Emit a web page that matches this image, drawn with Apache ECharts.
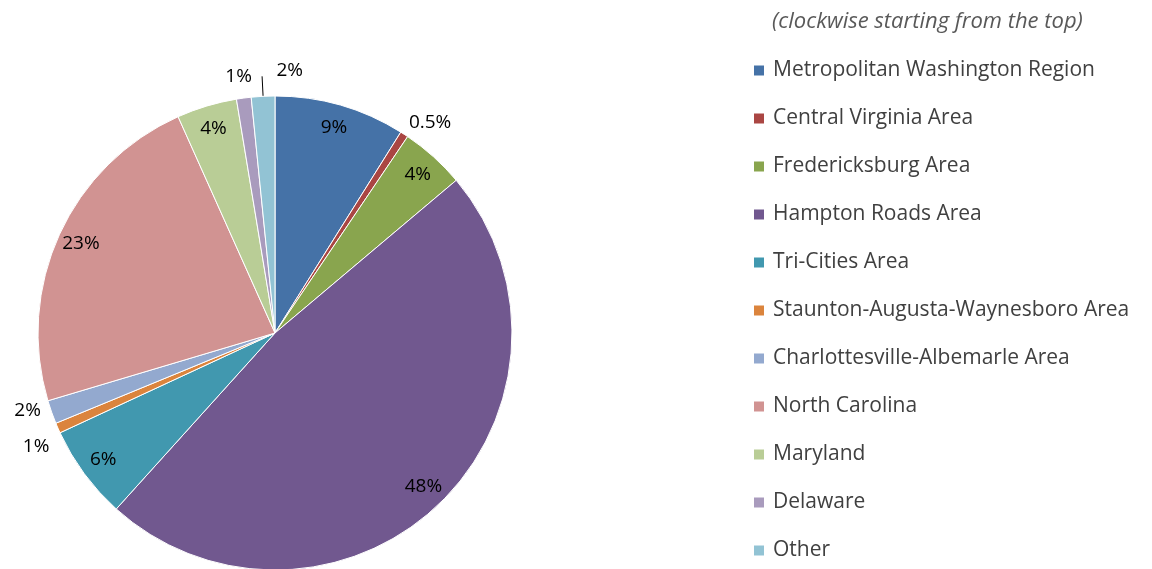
<!DOCTYPE html>
<html>
<head>
    <meta charset="UTF-8">
    <title>Share by region</title>
    <script src="https://cdn.jsdelivr.net/npm/echarts@6/dist/echarts.min.js"></script>
    <style>
        body { margin: 0; padding: 0; background: #fff; }
        #main { width: 1152px; height: 569px; }
    </style>
</head>
<body>
<div id="main"></div>
<script>
    // data, clockwise from the top
    var regions = ['Metropolitan Washington Region', 'Central Virginia Area', 'Fredericksburg Area',
        'Hampton Roads Area', 'Tri-Cities Area', 'Staunton-Augusta-Waynesboro Area',
        'Charlottesville-Albemarle Area', 'North Carolina', 'Maryland', 'Delaware', 'Other'];
    var shares = [8.9, 0.55, 4.4, 47.8, 6.4, 0.7, 1.6, 22.9, 4.1, 1.0, 1.6];
    var shareLabels = ['9%', '0.5%', '4%', '48%', '6%', '1%', '2%', '23%', '4%', '1%', '2%'];
    var colors = ['#4572A7', '#AA4643', '#89A54E', '#71588F', '#4198AF', '#DB843D',
        '#93A9CF', '#D19392', '#B9CD96', '#A99BBD', '#92C3D4'];

    // small slices get their label outside the pie: label line length, nudge
    var outside = {1: 14, 5: 18, 6: 6, 9: 22, 10: 20};
    var nudge = {1: [-6, 0], 5: [11, 11], 6: [-2, -4], 9: [14, 0], 10: [44, -6]};

    var chart = echarts.init(document.getElementById('main'), null, {renderer: 'canvas'});
    var font = '"Open Sans", sans-serif';

    var mainData = regions.map(function (name, i) {
        var item = {name: name, value: shares[i], itemStyle: {color: colors[i]}};
        if (outside[i] !== undefined) {
            item.label = {show: true, position: 'outside', distanceToLabelLine: 3};
            item.labelLine = {show: i === 10, length: outside[i], length2: 0};
        }
        return item;
    });
    var innerData = regions.map(function (name, i) {
        return {
            name: name, value: shares[i],
            label: {show: outside[i] === undefined}
        };
    });

    var option = {
        animation: false,
        color: colors,
        title: {
            text: '(clockwise starting from the top)',
            left: 772, top: 11, padding: 0,
            textStyle: {fontFamily: font, fontStyle: 'italic', fontWeight: 'normal', fontSize: 22, color: '#595959'}
        },
        legend: {
            orient: 'vertical',
            left: 752, top: 60, padding: 0,
            itemWidth: 12, itemHeight: 12, itemGap: 27,
            icon: 'rect',
            data: regions,
            textStyle: {fontFamily: font, fontSize: 21, color: '#404040', lineHeight: 21, padding: [0, 0, 0, 3]},
            selectedMode: false
        },
        series: [
            {
                type: 'pie',
                center: [275, 333],
                radius: [0, 237],
                startAngle: 90,
                clockwise: true,
                avoidLabelOverlap: false,
                itemStyle: {borderColor: '#fff', borderWidth: 1},
                label: {
                    show: false,
                    fontFamily: font, fontSize: 19, color: '#000',
                    formatter: function (p) { return shareLabels[p.dataIndex]; }
                },
                labelLine: {lineStyle: {color: '#000', width: 1}},
                labelLayout: function (p) {
                    var n = nudge[p.dataIndex];
                    if (n) return {dx: n[0], dy: n[1]};
                },
                emphasis: {disabled: true},
                data: mainData
            },
            {
                // transparent ring that carries the inside labels near the rim
                type: 'pie',
                center: [275, 333],
                radius: [184, 237],
                startAngle: 90,
                clockwise: true,
                silent: true,
                legendHoverLink: false,
                itemStyle: {color: 'rgba(0,0,0,0)', borderWidth: 0},
                label: {
                    position: 'inside',
                    fontFamily: font, fontSize: 19, color: '#000',
                    formatter: function (p) { return shareLabels[p.dataIndex]; }
                },
                labelLine: {show: false},
                emphasis: {disabled: true},
                data: innerData
            }
        ]
    };
    chart.setOption(option);
</script>
</body>
</html>
